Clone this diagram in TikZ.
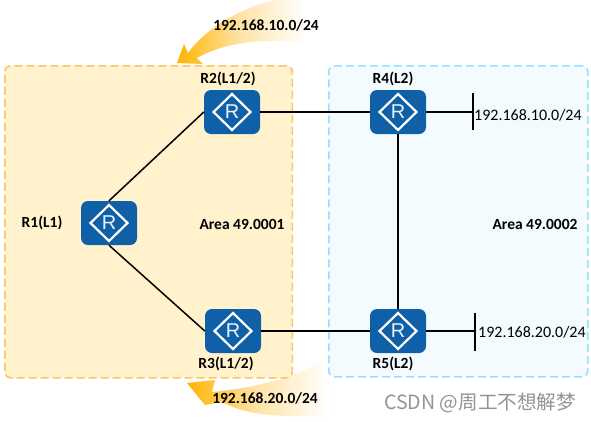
\documentclass[tikz,border=0pt]{standalone}
\usepackage{fontspec}
\setmainfont{Carlito}
\newfontfamily\cjkwm{Noto Sans CJK SC}
\newfontfamily\routerfont{Liberation Sans}
\definecolor{routerblue}{HTML}{1060A8}
\definecolor{yellowfill}{HTML}{FFF2CC}
\definecolor{yellowedge}{HTML}{FFC266}
\definecolor{bluefill}{HTML}{F3FBFF}
\definecolor{blueedge}{HTML}{99E0FF}
\definecolor{arrowgold}{HTML}{FFB400}
\definecolor{arrowmid}{HTML}{FFE3A8}
\tikzset{
  x=1pt,y=-1pt,
  area/.style={rounded corners=6pt,dash pattern=on 8pt off 4pt,line width=1.6pt},
  router/.style={rounded corners=7pt,fill=routerblue,draw=none,minimum width=56pt,minimum height=44pt,inner sep=0pt,
    text=white!92!routerblue,font=\routerfont\fontsize{20}{20}\selectfont,
    path picture={\draw[white,line width=2.2pt,sharp corners,line join=miter] ([xshift=-18.5pt]path picture bounding box.center)--([yshift=18pt]path picture bounding box.center)--([xshift=18.5pt]path picture bounding box.center)--([yshift=-18pt]path picture bounding box.center)--cycle;}},
  link/.style={line width=1.5pt,black},
  lab/.style={font=\bfseries\fontsize{15.5}{16}\selectfont,inner sep=0pt,text=black},
  net/.style={font=\fontsize{16}{16}\selectfont,inner sep=0pt,anchor=west,text=black},
}
\begin{document}
\begin{tikzpicture}
\useasboundingbox (0,0) rectangle (591,421);
\fill[white] (0,0) rectangle (591,421);
% fading arrows
\shade[left color=arrowgold,right color=white,middle color=arrowmid]
  (177,63) -- (184,44) -- (188,53) .. controls (205,30) and (235,10) .. (275,0)
  -- (305,0) -- (305,43) .. controls (265,38) and (225,42) .. (197,58) -- (203,64) -- cycle;
\shade[left color=arrowgold,right color=white,middle color=arrowmid]
  (187,383) -- (215,380) -- (212,392) .. controls (255,388) and (295,378) .. (327,358)
  -- (327,416) -- (295,416) .. controls (265,416) and (240,412) .. (222,402) -- (205,405) -- cycle;
% areas
\node[area,draw=yellowedge,fill=yellowfill,minimum width=287.5pt,minimum height=312pt,anchor=north west,inner sep=0pt] (areaA) at (4,65) {};
\node[area,draw=blueedge,fill=bluefill,minimum width=259pt,minimum height=311pt,anchor=north west,inner sep=0pt] (areaB) at (328,65) {};
% routers
\node[router] (R1) at (109,223) {R};
\node[router] (R2) at (232,112) {R};
\node[router] (R3) at (233,331) {R};
\node[router] (R4) at (398,112) {R};
\node[router] (R5) at (398,331) {R};
% stub bars
\coordinate (b1t) at (473,93); \coordinate (b1b) at (473,130); \coordinate (b1m) at (473,112);
\coordinate (b2t) at (475,313); \coordinate (b2b) at (475,351); \coordinate (b2m) at (475,331);
% links
\draw[link] (R1.north) -- (R2.west);
\draw[link] (R1.south) -- (R3.west);
\draw[link] (R2.east) -- (R4.west);
\draw[link] (R3.east) -- (R5.west);
\draw[link] (R4.south) -- (R5.north);
\draw[link] (R4.east) -- (b1m);
\draw[link] (R5.east) -- (b2m);
\draw[link] (b1t) -- (b1b);
\draw[link] (b2t) -- (b2b);
% labels
\node[lab] (lR1) at (42,223) {R1(L1)};
\node[lab] (lR2) at (228,79) {R2(L1/2)};
\node[lab] (lR3) at (226,364) {R3(L1/2)};
\node[lab] (lR4) at (393,79) {R4(L2)};
\node[lab] (lR5) at (393,364) {R5(L2)};
\node[lab] (aA) at (242,224) {Area 49.0001};
\node[lab] (aB) at (535,224) {Area 49.0002};
\node[lab] (n1) at (266,25) {192.168.10.0/24};
\node[lab] (n2) at (265,398) {192.168.20.0/24};
\node[net] (n3) at (474,115) {192.168.10.0/24};
\node[net] (n4) at (478,332) {192.168.20.0/24};
\node[inner sep=0pt,anchor=west,text=black!42,font=\cjkwm\fontsize{19.6}{20}\selectfont] (wm) at (384,403) {CSDN @周工不想解梦};
\end{tikzpicture}
\end{document}
